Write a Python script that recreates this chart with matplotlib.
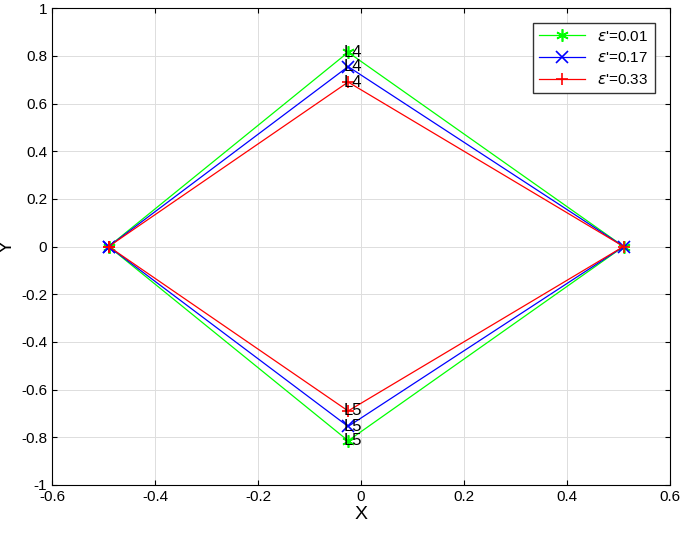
import matplotlib
matplotlib.use('Agg')
import matplotlib.pyplot as plt

labels = [r"$\epsilon$'=0.01", r"$\epsilon$'=0.17", r"$\epsilon$'=0.33"]
colors = ['#00ff00', '#0000ff', '#ff0000']
markers = [(6, 2, 0), 'x', '+']
x_left, x_mid, x_right = -0.49, -0.025, 0.51
y_top = [0.815, 0.755, 0.69]

plt.rcParams['font.family'] = 'Liberation Sans'
fig = plt.figure(figsize=(6.85, 5.46), dpi=100)
ax = fig.add_axes([0.076, 0.112, 0.902, 0.873])

for yt, c, m, lab in zip(y_top, colors, markers, labels):
    xs = [x_left, x_mid, x_right, x_mid, x_left]
    ys = [0, yt, 0, -yt, 0]
    ax.plot(xs, ys, color=c, marker=m, lw=0.9, ms=9, mew=1.2, label=lab)
    ax.text(x_mid - 0.008, yt, 'L4', fontsize=12, va='center', ha='left')
    ax.text(x_mid - 0.008, -yt, 'L5', fontsize=12, va='center', ha='left')

ax.set_xlim(-0.6, 0.6)
ax.set_ylim(-1, 1)
ax.set_xticks([-0.6, -0.4, -0.2, 0, 0.2, 0.4, 0.6])
ax.set_xticklabels(['-0.6', '-0.4', '-0.2', '0', '0.2', '0.4', '0.6'])
ax.set_yticks([-1, -0.8, -0.6, -0.4, -0.2, 0, 0.2, 0.4, 0.6, 0.8, 1])
ax.set_yticklabels(['-1', '-0.8', '-0.6', '-0.4', '-0.2', '0', '0.2', '0.4', '0.6', '0.8', '1'])
ax.tick_params(direction='in', labelsize=11, top=True, right=True)
ax.grid(True, color='#dddddd', lw=0.7)
ax.set_xlabel('X', fontsize=14, labelpad=2)
ax.set_ylabel('Y', fontsize=14, labelpad=4)
ax.legend(loc='upper right', fontsize=11, fancybox=False, edgecolor='#333333',
          framealpha=1, handlelength=3, borderaxespad=1)

fig.savefig('out.png')
